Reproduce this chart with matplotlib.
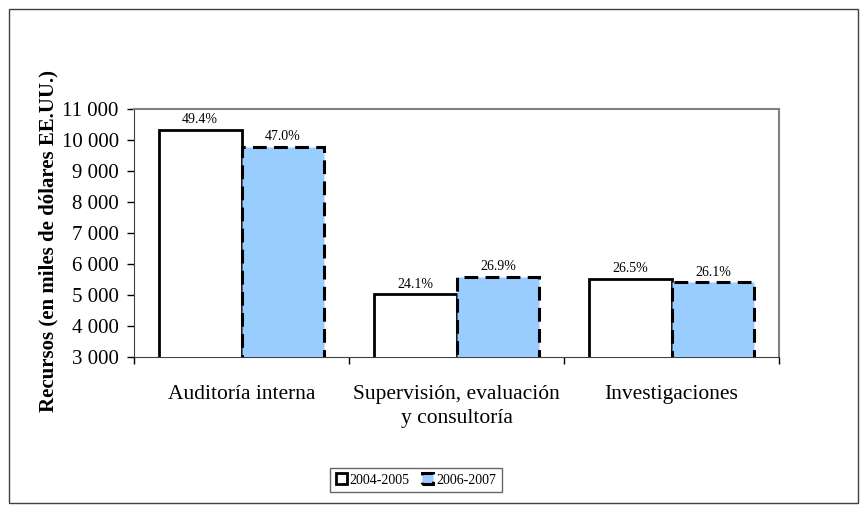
import numpy as np
import matplotlib.pyplot as plt
from matplotlib.patches import Rectangle

categories = ["Auditoría interna", "Supervisión, evaluación\ny consultoría", "Investigaciones"]
series_names = ["2004-2005", "2006-2007"]
values_0405 = [10330, 5030, 5530]
values_0607 = [9780, 5590, 5420]
labels_0405 = ["49.4%", "24.1%", "26.5%"]
labels_0607 = ["47.0%", "26.9%", "26.1%"]
yticks = [3000, 4000, 5000, 6000, 7000, 8000, 9000, 10000, 11000]

plt.rcParams['font.family'] = ['Liberation Serif', 'DejaVu Serif']

fig = plt.figure(figsize=(8.68, 5.12), dpi=100)
# outer chart border
fig.patches.append(Rectangle((9 / 868, 9 / 512), 849 / 868, 494 / 512, transform=fig.transFigure,
                             fill=False, edgecolor="#404040", linewidth=1))

ax = fig.add_axes([134 / 868, 1 - 357 / 512, 645 / 868, 248 / 512])

x = np.arange(len(categories))
w = 0.385
bars1 = ax.bar(x - w / 2, values_0405, w, color="white", edgecolor="black", linewidth=2,
               label=series_names[0], zorder=3)
bars2 = ax.bar(x + w / 2, values_0607, w, color="#99CCFF", edgecolor="black", linewidth=2.2,
               linestyle=(0, (4.5, 2.4)), label=series_names[1], zorder=3)

for b, t in zip(bars1, labels_0405):
    ax.text(b.get_x() + b.get_width() / 2, b.get_height() + 110, t, ha="center", va="bottom", fontsize=10)
for b, t in zip(bars2, labels_0607):
    ax.text(b.get_x() + b.get_width() / 2, b.get_height() + 110, t, ha="center", va="bottom", fontsize=10)

ax.set_xlim(-0.5, len(categories) - 0.5)
ax.set_ylim(3000, 11000)
ax.set_yticks(yticks)
ax.set_yticklabels([f"{v:,}".replace(",", " ") for v in yticks], fontsize=15)
ax.set_xticks(x)
ax.set_xticklabels(categories, fontsize=15.5, linespacing=1.4)
ax.set_xticks(np.arange(len(categories) + 1) - 0.5, minor=True)
ax.tick_params(axis="x", which="major", length=0, pad=20)
ax.tick_params(axis="x", which="minor", length=5, direction="out", width=1)
ax.tick_params(axis="y", length=5, direction="out", width=1, pad=6)

for s in ["top", "right"]:
    ax.spines[s].set_color("#808080")
    ax.spines[s].set_linewidth(1.5)
ax.spines["left"].set_color("#404040")
ax.spines["bottom"].set_color("#404040")

fig.text(48 / 868, 1 - 241 / 512, "Recursos (en miles de dólares EE.UU.)", rotation=90,
         ha="center", va="center", fontsize=15, fontweight="bold")

leg = fig.legend(loc="center", bbox_to_anchor=(416 / 868, 1 - 480 / 512), ncol=2, fontsize=10,
                 frameon=True, fancybox=False, edgecolor="#404040", handlelength=0.8, handleheight=0.8,
                 handletextpad=0.2, columnspacing=0.9, borderpad=0.4)
leg.get_frame().set_linewidth(1)

fig.savefig("out.png", dpi=100)
